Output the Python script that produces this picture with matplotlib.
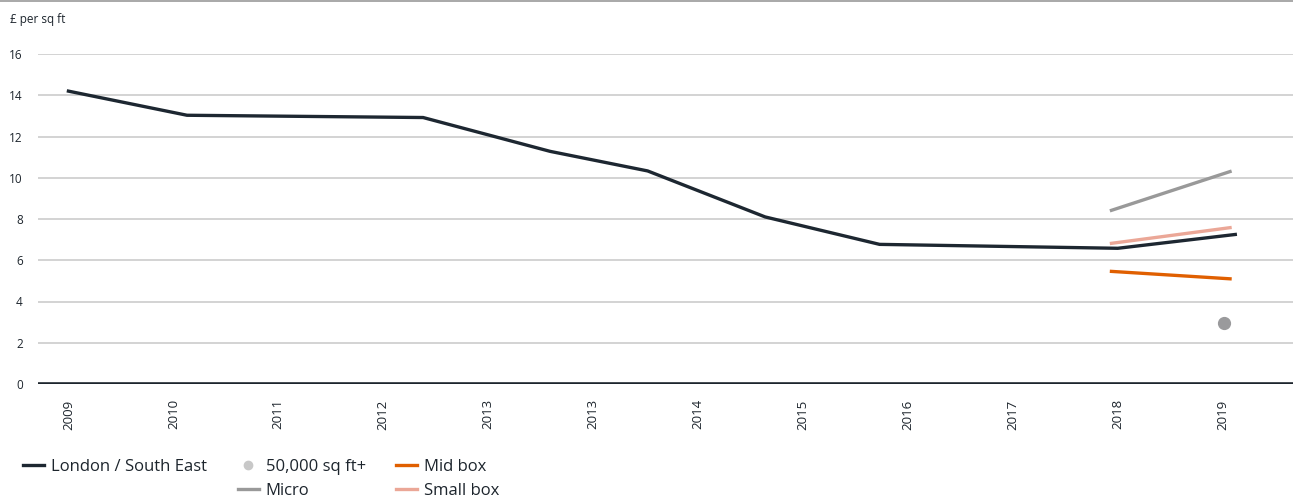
import matplotlib
matplotlib.use("Agg")
import matplotlib.pyplot as plt
from matplotlib.lines import Line2D

plt.rcParams["font.family"] = ["Open Sans", "DejaVu Sans"]

INK = "#1d252d"
GRID = "#c8c8c8"

# x positions are measured in tick slots (0 = first label, 11 = last label)
TICK_LABELS = ["2009", "2010", "2011", "2012", "2013", "2013",
               "2014", "2015", "2016", "2017", "2018", "2019"]

LONDON_X = [0.0, 1.13, 3.38, 4.59, 5.52, 6.64, 7.73, 10.0, 11.12]
LONDON_Y = [14.2, 13.03, 12.92, 11.28, 10.33, 8.1, 6.77, 6.58, 7.25]

MICRO_X = [9.94, 11.07]
MICRO_Y = [8.42, 10.3]

SMALL_X = [9.94, 11.07]
SMALL_Y = [6.82, 7.58]

MID_X = [9.94, 11.07]
MID_Y = [5.46, 5.1]

BIG_X = [11.01]
BIG_Y = [2.97]

fig = plt.figure(figsize=(12.93, 5.0), dpi=100)
ax = fig.add_axes([38 / 1293, 1 - 384 / 500, 1 - 38 / 1293, (384 - 54) / 500])

ax.set_xlim(-0.29, 11.67)
ax.set_ylim(0, 16)

for y in range(2, 17, 2):
    ax.axhline(y, color=GRID, lw=1.1, zorder=1)
ax.axhline(0, color=INK, lw=2.6, zorder=4)

ax.plot(LONDON_X, LONDON_Y, color="#1d2731", lw=2.4, zorder=5, solid_joinstyle="miter")
ax.plot(MICRO_X, MICRO_Y, color="#999999", lw=2.4, zorder=3)
ax.plot(SMALL_X, SMALL_Y, color="#eba797", lw=2.4, zorder=3)
ax.plot(MID_X, MID_Y, color="#e05f00", lw=2.4, zorder=3)
ax.plot(BIG_X, BIG_Y, "o", color="#9a9a9c", ms=8.5, zorder=3)

for side in ax.spines.values():
    side.set_visible(False)

ax.set_yticks(range(0, 17, 2))
ax.set_xticks(range(len(TICK_LABELS)))
ax.set_xticklabels(TICK_LABELS, rotation=90, va="top", ha="center")
ax.tick_params(axis="y", length=0, pad=11, labelsize=8.5, labelcolor=INK)
ax.tick_params(axis="x", length=0, pad=11, labelsize=9.5, labelcolor=INK)

fig.text(10 / 1293, 1 - 20 / 500, "£ per sq ft", fontsize=8.5, color=INK, va="center", ha="left")

# thin rule along the top edge
fig.add_artist(Line2D([0, 1], [0.998, 0.998], transform=fig.transFigure, color="#9a9a9a", lw=1.2))

handles = [
    Line2D([], [], color="#1d2731", lw=2.4),
    Line2D([], [], color="none"),
    Line2D([], [], marker="o", color="#c8c8c8", ls="none", ms=6),
    Line2D([], [], color="#999999", lw=2.4),
    Line2D([], [], color="#e05f00", lw=2.4),
    Line2D([], [], color="#eba797", lw=2.4),
]
labels = ["London / South East", "", "50,000 sq ft+", "Micro", "Mid box", "Small box"]
fig.legend(handles, labels, loc="upper left", bbox_to_anchor=(23 / 1293, 1 - 459 / 500),
           ncol=3, frameon=False, fontsize=12, borderpad=0, borderaxespad=0,
           handlelength=1.25, handletextpad=0.42, columnspacing=1.85, labelspacing=0.48,
           labelcolor=INK)

fig.savefig("out.png", dpi=100)
